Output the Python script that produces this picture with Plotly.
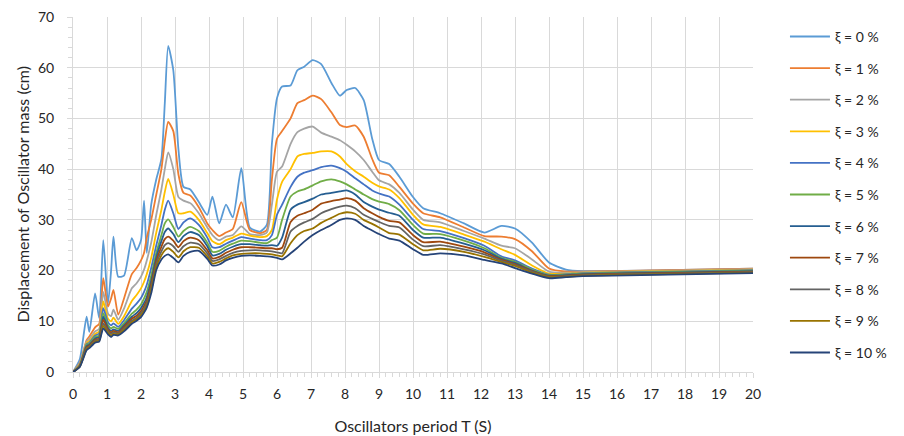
import plotly.graph_objects as go

T = [0, 0.2, 0.4, 0.48, 0.65, 0.77, 0.89, 1.03, 1.12, 1.19, 1.33, 1.5, 1.73, 1.87, 2.0, 2.09, 2.17,
     2.3, 2.45, 2.6, 2.7, 2.8, 2.95, 3.1, 3.25, 3.45, 3.7, 3.95, 4.1, 4.3, 4.5, 4.7, 4.95, 5.2, 5.5,
     5.7, 5.85, 6.0, 6.15, 6.4, 6.6, 6.8, 7.05, 7.3, 7.6, 7.85, 8.05, 8.3, 8.55, 8.8, 9.0, 9.3, 9.6,
     10.0, 10.3, 10.8, 11.5, 12.1, 12.6, 13.0, 13.5, 14.0, 14.5, 15, 17.5, 20]

d0 = [0, 2.5, 10.9, 7.9, 15.5, 10.6, 26, 13.5, 20, 26.7, 18.8, 19, 26.4, 24, 26, 33.8, 23.5, 33, 38, 42,
      53, 64.3, 59.5, 44, 36.5, 36, 33.5, 31, 34.6, 29.3, 33, 30.5, 40.2, 28.5, 27.7, 29, 45, 54, 56.3,
      56.5, 59.5, 60.2, 61.5, 60.7, 57, 54.5, 55.6, 56, 53.6, 46, 41.8, 41, 38.5, 34.5, 32.3, 31.3, 29.3,
      27.5, 28.8, 28.3, 25.5, 21.6, 20.2, 19.9, 20.1, 20.4]
d1 = [0, 1.8, 6.3, 7, 8.8, 9.5, 18.5, 12.9, 14.5, 16.2, 11.3, 14.5, 19.3, 20.5, 22, 23.5, 26.5, 30, 35, 40,
      45.5, 49.3, 47.5, 39, 35.3, 34.8, 32.5, 29.3, 28, 26.8, 27.5, 28.2, 33.5, 28, 27.4, 28, 38, 46, 47.5,
      50, 53, 53.6, 54.5, 53.8, 51.2, 48.7, 48.3, 48.6, 46.4, 42, 39.3, 38.8, 36.5, 33.2, 31.3, 30.5, 28.5,
      26.8, 26.7, 26.2, 23.8, 20.4, 19.8, 19.8, 20.1, 20.4]
d2 = [0, 1.6, 6, 6.5, 8, 8.5, 15.8, 11.5, 11, 12.3, 10.3, 12.5, 16.5, 17.5, 18.8, 20.2, 22, 25.5, 31, 36,
      40, 43.3, 40, 34.5, 33.8, 33.3, 31.3, 28.5, 27, 26, 26.7, 27, 28.7, 27.2, 27, 27.5, 33, 39.5, 40.5,
      45, 47.3, 48, 48.4, 47.2, 46.4, 45.7, 44.8, 43.5, 41.8, 39.5, 37.8, 37, 35.3, 32, 30, 29.5, 27.8,
      26.3, 24.9, 24.4, 22.2, 19.8, 19.6, 19.7, 20, 20.3]
d3 = [0, 1.5, 5.7, 6.1, 7.5, 8, 13.9, 10.5, 10, 10.7, 9.5, 11, 14, 15.2, 16.5, 17.8, 19.3, 22.5, 27.5, 32,
      35.5, 38.1, 35, 31.3, 31.3, 31.6, 30, 27.4, 25.8, 25.2, 26, 26.5, 27.3, 26.9, 26.6, 26.8, 28, 34, 37.5,
      40, 42.5, 43, 43.2, 43.5, 43.5, 42.5, 41, 39.6, 38.5, 37.3, 36.6, 36, 34.3, 31, 29.1, 28.6, 27.1,
      25.7, 24.2, 23.1, 21, 19.4, 19.4, 19.6, 19.9, 20.2]
d4 = [0, 1.4, 5.5, 5.8, 7.2, 7.6, 12.6, 9.8, 9.2, 9.6, 8.9, 10.2, 12.5, 13.5, 14.6, 15.8, 17.2, 20.5, 25, 29,
      32, 33.8, 31.3, 28.2, 29.5, 30.3, 29, 26.5, 24.6, 24.6, 25.3, 25.9, 26.6, 26.3, 26, 26, 27, 31, 33,
      36.5, 38.5, 39.3, 39.8, 40.4, 40.7, 40.2, 39.5, 38.2, 37, 35.8, 35.2, 34.6, 33, 30, 28.2, 27.8, 26.4,
      24.9, 22.8, 22, 20.4, 19.2, 19.3, 19.5, 19.8, 20.1]
d5 = [0, 1.3, 5.3, 5.6, 6.9, 7.2, 11.6, 9.2, 8.6, 8.9, 8.5, 9.6, 11.5, 12.3, 13.3, 14.5, 15.8, 19, 23.5, 27,
      29.3, 30.1, 28.6, 26.7, 27.8, 28.6, 27.8, 25.5, 23.7, 23.9, 24.7, 25.3, 25.9, 25.8, 25.5, 25.4, 26,
      26.5, 30, 34.6, 35.6, 36, 36.8, 37.6, 38, 37.6, 37, 36, 35, 34.1, 33.6, 33.1, 31.9, 29, 27.3, 27.2,
      25.9, 24.4, 22.5, 21.7, 20.2, 19.1, 19.2, 19.4, 19.7, 20]
d6 = [0, 1.2, 5.1, 5.4, 6.6, 6.9, 10.9, 8.7, 8.1, 8.4, 8.1, 9.2, 10.9, 11.6, 12.6, 13.6, 14.8, 18, 22.6, 25.8,
      27.6, 28.3, 27.2, 25.6, 26.8, 27.6, 27, 24.8, 23, 23.3, 24.1, 24.7, 25.2, 25.2, 25, 24.9, 25, 24.9,
      26.5, 32, 33, 33.5, 34.2, 35, 35.3, 35.6, 35.8, 35, 33.5, 32.6, 32, 31.4, 30.8, 28, 26.5, 26.5, 25.3,
      24, 22.3, 21.5, 20, 19, 19.1, 19.3, 19.6, 19.9]
d7 = [0, 1.2, 4.9, 5.2, 6.4, 6.6, 10.3, 8.3, 7.8, 8.1, 7.8, 8.9, 10.5, 11.1, 12, 13, 14.1, 17.3, 21.9, 24.7,
      26.2, 26.7, 25.9, 24.6, 25.8, 26.5, 26, 24, 22.4, 22.7, 23.5, 24.1, 24.6, 24.6, 24.5, 24.4, 24.4,
      24.2, 24.5, 29.6, 30.8, 31.3, 32, 33.2, 33.7, 34, 34.3, 33.8, 32.3, 31.3, 30.6, 29.8, 29.5, 27, 25.6,
      25.7, 24.7, 23.6, 22.1, 21.3, 19.9, 18.9, 19, 19.2, 19.5, 19.8]
d8 = [0, 1.1, 4.7, 5, 6.2, 6.4, 9.6, 8, 7.5, 7.8, 7.6, 8.6, 10.1, 10.7, 11.6, 12.5, 13.6, 16.7, 21.3, 23.8,
      25, 25.4, 24.8, 23.7, 24.8, 25.5, 25.2, 23.4, 21.9, 22.2, 22.9, 23.5, 23.9, 24, 24, 23.9, 23.8, 23.6,
      23.4, 27.7, 28.8, 29.5, 30.2, 31.3, 32.1, 32.6, 32.8, 32.3, 31, 30.2, 29.6, 28.8, 28.5, 26.1, 24.8,
      25, 24.2, 23.2, 21.9, 21.1, 19.8, 18.8, 18.9, 19.1, 19.4, 19.7]
d9 = [0, 1.1, 4.5, 4.9, 6, 6.2, 9.1, 7.7, 7.2, 7.5, 7.4, 8.3, 9.8, 10.4, 11.2, 12.1, 13.1, 16.1, 20.7, 23,
      24, 24.4, 23.7, 22.6, 23.8, 24.6, 24.5, 22.8, 21.4, 21.7, 22.4, 23, 23.3, 23.4, 23.4, 23.3, 23.2, 23,
      22.8, 25.4, 27, 27.8, 28.3, 29.4, 30.4, 31.2, 31.5, 31.2, 30, 29.2, 28.5, 27.4, 27.1, 25.2, 24, 24.3,
      23.7, 22.7, 21.7, 20.9, 19.6, 18.7, 18.8, 19, 19.3, 19.6]
d10 = [0, 1, 4.3, 4.7, 5.8, 6, 8.6, 7.4, 6.9, 7.3, 7.2, 8, 9.5, 10.1, 10.8, 11.7, 12.7, 15.5, 20.1, 22.2,
       22.9, 23.2, 22.5, 21.6, 22.9, 23.7, 23.9, 22.3, 21, 21.2, 22, 22.5, 22.9, 23, 22.9, 22.8, 22.7, 22.5,
       22.2, 23.4, 24.5, 25.7, 27, 28, 29, 30, 30.3, 30, 28.8, 27.9, 27.2, 26.3, 25.9, 24.2, 23.1, 23.4, 23,
       22.1, 21.4, 20.5, 19.4, 18.5, 18.7, 18.9, 19.2, 19.5]

series = [d0, d1, d2, d3, d4, d5, d6, d7, d8, d9, d10]
names = ["ξ = 0 %", "ξ = 1 %", "ξ = 2 %", "ξ = 3 %", "ξ = 4 %", "ξ = 5 %",
         "ξ = 6 %", "ξ = 7 %", "ξ = 8 %", "ξ = 9 %", "ξ = 10 %"]
colors = ["#5B9BD5", "#ED7D31", "#A5A5A5", "#FFC000", "#4472C4", "#70AD47",
          "#255E91", "#9E480E", "#636363", "#997300", "#264478"]
x_title = "Oscillators period T (S)"
y_title = "Displacement of Oscillator mass (cm)"

fig = go.Figure()
for i, (ys, nm, c) in enumerate(zip(series, names, colors)):
    fig.add_trace(go.Scatter(x=T, y=ys, name=nm, mode="lines", legendgroup=f"g{i}",
                             line=dict(color=c, width=1.8, shape="spline", smoothing=0.6)))

FONT = "Lato, Liberation Sans, sans-serif"
grid = "#D9D9D9"
fig.update_layout(
    width=904, height=436,
    margin=dict(l=73, r=151, t=17, b=64, autoexpand=False),
    plot_bgcolor="white", paper_bgcolor="white",
    font=dict(family=FONT, size=14, color="#262626"),
    showlegend=True,
    legend=dict(x=1.047, xanchor="left", y=0.989, yanchor="top",
                font=dict(family=FONT, size=14, color="#262626"),
                tracegroupgap=10.4, itemwidth=40, bgcolor="rgba(0,0,0,0)"),
    xaxis=dict(range=[0, 20], dtick=1, tick0=0, showgrid=True, gridcolor=grid, gridwidth=1,
               showline=True, linecolor=grid, linewidth=1, zeroline=False, automargin=False,
               ticks="outside", ticklen=5, tickcolor=grid, ticklabelstandoff=4,
               minor=dict(dtick=0.2, ticks="outside", ticklen=4, tickcolor=grid, showgrid=False),
               title=dict(text=x_title, font=dict(size=16), standoff=20)),
    yaxis=dict(range=[0, 70], dtick=10, tick0=0, showgrid=True, gridcolor=grid, gridwidth=1,
               showline=True, linecolor=grid, linewidth=1, zeroline=False, automargin=False,
               ticks="outside", ticklen=5, tickcolor=grid, ticklabelstandoff=10,
               minor=dict(dtick=2, ticks="outside", ticklen=4, tickcolor=grid, showgrid=False)),
    annotations=[dict(text=y_title, xref="paper", yref="paper", x=-0.075, y=0.5,
                      xanchor="center", yanchor="middle", textangle=-90, showarrow=False,
                      font=dict(family=FONT, size=16, color="#262626"))],
)

# remove the browser's default 8 px page margin so the figure sits at the window's top-left corner
fig.write_html("out.html", config={"displayModeBar": False},
               post_script="document.body.style.margin='0';")
